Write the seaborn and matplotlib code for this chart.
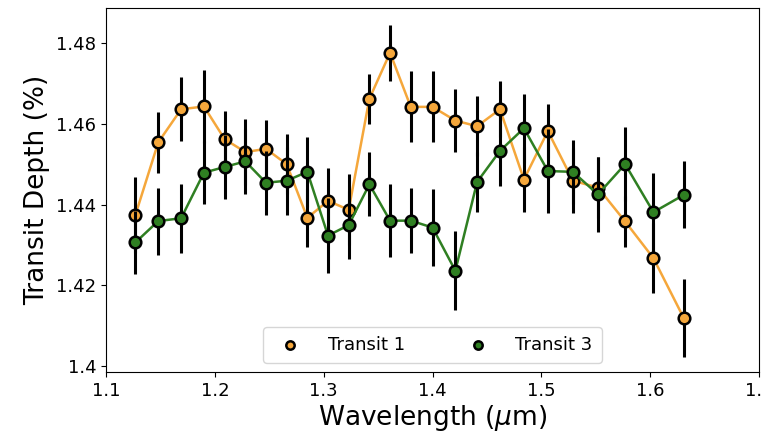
import matplotlib
matplotlib.use("Agg")
import matplotlib.pyplot as plt
import seaborn as sns
import pandas as pd

wavelength = [1.127, 1.148, 1.169, 1.190, 1.209, 1.228, 1.247, 1.266, 1.285, 1.304,
              1.323, 1.342, 1.361, 1.380, 1.400, 1.421, 1.441, 1.462, 1.484, 1.506,
              1.529, 1.552, 1.577, 1.603, 1.631]

transit1 = [1.4374, 1.4554, 1.4636, 1.4643, 1.4562, 1.4530, 1.4538, 1.4500, 1.4367, 1.4409,
            1.4387, 1.4662, 1.4776, 1.4642, 1.4642, 1.4608, 1.4594, 1.4636, 1.4462, 1.4582,
            1.4459, 1.4442, 1.4358, 1.4267, 1.4118]
transit1_err = [0.0095, 0.0075, 0.0079, 0.0091, 0.0069, 0.0081, 0.0072, 0.0074, 0.0072, 0.0081,
                0.0088, 0.0062, 0.0070, 0.0088, 0.0088, 0.0079, 0.0074, 0.0069, 0.0081, 0.0067,
                0.0081, 0.0075, 0.0063, 0.0087, 0.0097]

transit3 = [1.4306, 1.4359, 1.4366, 1.4479, 1.4493, 1.4507, 1.4454, 1.4459, 1.4481, 1.4323,
            1.4349, 1.4450, 1.4360, 1.4360, 1.4343, 1.4236, 1.4456, 1.4533, 1.4589, 1.4483,
            1.4481, 1.4425, 1.4500, 1.4381, 1.4424]
transit3_err = [0.0077, 0.0083, 0.0085, 0.0078, 0.0080, 0.0080, 0.0079, 0.0084, 0.0087, 0.0093,
                0.0085, 0.0079, 0.0091, 0.0081, 0.0095, 0.0098, 0.0075, 0.0087, 0.0085, 0.0105,
                0.0079, 0.0094, 0.0091, 0.0097, 0.0083]

labels = ["Transit 1", "Transit 3"]
colors = ["#f5a73b", "#2f7f22"]
xticks = [1.1, 1.2, 1.3, 1.4, 1.5, 1.6, 1.7]
yticks = [1.40, 1.42, 1.44, 1.46, 1.48]

fig = plt.figure(figsize=(7.61, 4.36), dpi=100)
ax = fig.add_axes([106 / 761, 64 / 436, 653 / 761, 364 / 436])

series = [(transit1, transit1_err), (transit3, transit3_err)]
z = 2
for (y, err), lab, col in zip(series, labels, colors):
    df = pd.DataFrame({"wl": wavelength, "depth": y, "err": err})
    sns.lineplot(data=df, x="wl", y="depth", color=col, linewidth=1.8, ax=ax,
                 zorder=z, legend=False)
    ax.errorbar(df["wl"], df["depth"], yerr=df["err"], fmt="none", ecolor="black",
                elinewidth=2.2, capsize=0, zorder=z + 1)
    sns.scatterplot(data=df, x="wl", y="depth", color=col, edgecolor="black",
                    linewidth=1.8, s=70, ax=ax, zorder=z + 2, label=lab)
    z += 3

ax.set_xlim(1.1, 1.7)
ax.set_ylim(1.3985, 1.4887)
ax.set_xticks(xticks)
ax.set_xticklabels(["1.1", "1.2", "1.3", "1.4", "1.5", "1.6", "1.7"])
ax.set_yticks(yticks)
ax.set_yticklabels(["1.4", "1.42", "1.44", "1.46", "1.48"])
ax.tick_params(labelsize=13)
ax.set_xlabel("Wavelength ($\\mu$m)", fontsize=19, labelpad=2)
ax.set_ylabel("Transit Depth (%)", fontsize=19)

ax.legend(loc="lower center", ncol=2, fontsize=13, markerscale=0.72,
          columnspacing=3.0, handletextpad=1.1, borderpad=0.5)

fig.savefig("out.png", dpi=100)
